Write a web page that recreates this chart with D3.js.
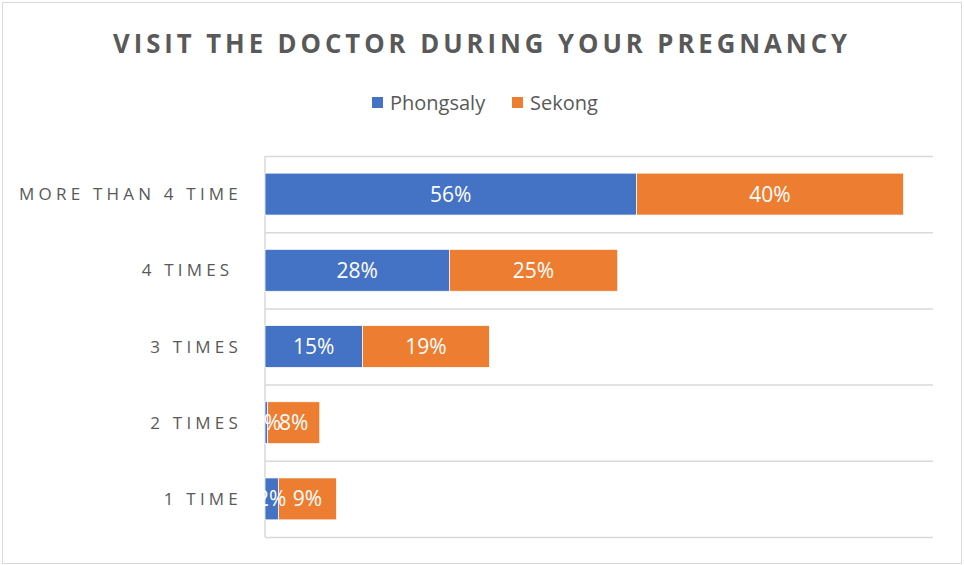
<!DOCTYPE html>
<html>
<head>
<meta charset="utf-8">
<script src="https://cdn.jsdelivr.net/npm/d3@7"></script>
<style>
  body { margin: 0; background: #fff; }
  text { font-family: "Open Sans", sans-serif; }
</style>
</head>
<body>
<script>
// categories, top to bottom
var categories = ["MORE THAN 4 TIME", "4 TIMES ", "3 TIMES", "2 TIMES", "1 TIME"]
var seriesNames = ["Phongsaly", "Sekong"]
var phongsaly = [0.556, 0.276, 0.146, 0.004, 0.02]
var sekong = [0.40, 0.252, 0.19, 0.078, 0.087]
var colors = ["#4472C4", "#ED7D31"]

var breedte = 964
var hoogte = 565
var marge = {boven: 156, beneden: 28, links: 265, rechts: 31}

var svg = d3.select("body").append("svg")
  .attr("width", breedte)
  .attr("height", hoogte)

// rand om de grafiek
svg.append("rect")
  .attr("x", 2.5).attr("y", 2.5)
  .attr("width", breedte - 5).attr("height", hoogte - 4)
  .attr("fill", "#fff")
  .attr("stroke", "#d9d9d9")

// titel
svg.append("text")
  .attr("x", breedte / 2)
  .attr("y", 53)
  .attr("text-anchor", "middle")
  .attr("font-size", "26px")
  .attr("font-weight", "bold")
  .attr("letter-spacing", "4px")
  .attr("fill", "#595959")
  .attr("textLength", 738)
  .attr("lengthAdjust", "spacingAndGlyphs")
  .text("VISIT THE DOCTOR DURING YOUR PREGNANCY")

// legenda
var legendX = [372, 512]
seriesNames.forEach(function(naam, i) {
  svg.append("rect")
    .attr("x", legendX[i]).attr("y", 97)
    .attr("width", 11).attr("height", 11)
    .attr("fill", colors[i])
  svg.append("text")
    .attr("x", legendX[i] + 18).attr("y", 110)
    .attr("font-size", "20px")
    .attr("fill", "#595959")
    .text(naam)
})

var x = d3.scaleLinear()
  .domain([0, 1])
  .range([marge.links, breedte - marge.rechts])

var y = d3.scaleBand()
  .domain(categories)
  .range([marge.boven, hoogte - marge.beneden])
  .paddingInner(0.45)
  .paddingOuter(0.225)

var step = y.step()

// rasterlijnen
var grid = d3.range(categories.length + 1)
svg.selectAll(".grid")
  .data(grid)
  .enter()
  .append("line")
  .attr("x1", x(0)).attr("x2", x(1))
  .attr("y1", function(d) { return y.range()[0] + d * step + 0.5 })
  .attr("y2", function(d) { return y.range()[0] + d * step + 0.5 })
  .attr("stroke", "#d9d9d9")
  .attr("stroke-width", 1.5)

// y-as
svg.append("line")
  .attr("x1", x(0)).attr("x2", x(0))
  .attr("y1", y.range()[0]).attr("y2", y.range()[1])
  .attr("stroke", "#d9d9d9")
  .attr("stroke-width", 1.5)

var data = categories.map(function(c, i) {
  return {cat: c, Phongsaly: phongsaly[i], Sekong: sekong[i]}
})
var stacked = d3.stack().keys(seriesNames)(data)

// balken
var lagen = svg.selectAll(".laag")
  .data(stacked)
  .enter()
  .append("g")
  .attr("fill", function(d, i) { return colors[i] })

lagen.selectAll("rect")
  .data(function(d) { return d })
  .enter()
  .append("rect")
  .attr("x", function(d) { return x(d[0]) })
  .attr("y", function(d) { return y(d.data.cat) })
  .attr("width", function(d) { return x(d[1]) - x(d[0]) })
  .attr("height", y.bandwidth())
  .attr("stroke", "#fff")
  .attr("stroke-width", 0.75)

// labels pas na alle balken tekenen
var labelLagen = svg.selectAll(".labels")
  .data(stacked)
  .enter()
  .append("g")

labelLagen.selectAll("text")
  .data(function(d) { return d })
  .enter()
  .append("text")
  .attr("x", function(d) { return (x(d[0]) + x(d[1])) / 2 })
  .attr("y", function(d) { return y(d.data.cat) + y.bandwidth() / 2 + 7.5 })
  .attr("text-anchor", "middle")
  .attr("font-size", "21px")
  .attr("fill", "#fff")
  .text(function(d) { return Math.round((d[1] - d[0]) * 100) + "%" })

// categorie labels
svg.selectAll(".cat")
  .data(categories)
  .enter()
  .append("text")
  .attr("x", 242)
  .attr("y", function(d) { return y(d) + y.bandwidth() / 2 + 6 })
  .attr("text-anchor", "end")
  .attr("font-size", "17px")
  .attr("letter-spacing", "4.2px")
  .attr("fill", "#595959")
  .attr("xml:space", "preserve")
  .style("white-space", "pre")
  .text(function(d) { return d })
</script>
</body>
</html>
